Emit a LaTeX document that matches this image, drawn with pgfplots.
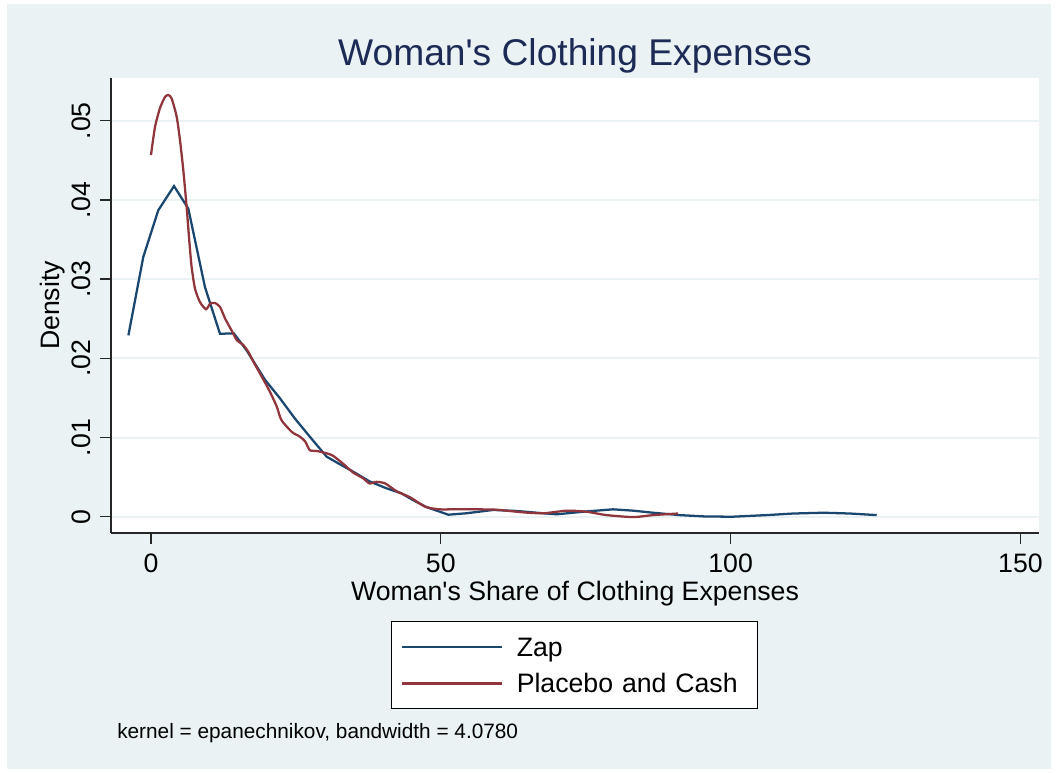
\documentclass[border=0pt]{standalone}
\usepackage{fontspec}
\setmainfont{Liberation Sans}
\usepackage{pgfplots}
\pgfplotsset{compat=1.18}
\definecolor{stbg}{RGB}{234,242,243}
\definecolor{stnavy}{RGB}{26,71,111}
\definecolor{stmaroon}{RGB}{144,53,59}
\definecolor{sttitle}{RGB}{28,43,86}
\begin{document}
\begin{tikzpicture}
\path[fill=white] (0,0) rectangle (792.75pt,579pt);
\fill[stbg] (5.25pt,2.25pt) rectangle (788.25pt,576pt);
\begin{axis}[
  at={(83.25pt,179.25pt)}, anchor=south west,
  scale only axis, width=696pt, height=341.25pt,
  xmin=-6.9, xmax=153.2, ymin=-0.00206, ymax=0.0554,
  axis background/.style={fill=white},
  axis lines*=left,
  axis line style={-, black!85, line width=1pt},
  xtick={0,50,100,150}, xticklabels={0,50,100,150},
  ytick={0,0.01,0.02,0.03,0.04,0.05}, yticklabels={0,.01,.02,.03,.04,.05},
  scaled y ticks=false,
  tick align=outside, major tick length=8.25pt,
  tick style={black!85, line width=1pt},
  ymajorgrids, major grid style={stbg, line width=1.5pt},
  tick label style={font=\fontsize{20}{24}\selectfont, inner sep=0pt},
  xticklabel style={anchor=base},
  xticklabel shift=21pt,
  yticklabel style={rotate=90, anchor=base},
  yticklabel shift=6.97pt,
  every axis title/.style={at={(axis description cs:0.5,1.02857)}, anchor=base,
    font=\fontsize{27.9}{32}\selectfont, text=sttitle, inner sep=0pt},
  title={Woman\textquotesingle s Clothing Expenses},
  every axis x label/.style={at={(axis description cs:0.5,-0.14725)}, anchor=base,
    font=\fontsize{20}{24}\selectfont, inner sep=0pt},
  xlabel={Woman\textquotesingle s Share of Clothing Expenses},
  every axis y label/.style={at={(axis description cs:-0.05496,0.5)}, rotate=90, anchor=base,
    font=\fontsize{20}{24}\selectfont, inner sep=0pt},
  ylabel={Density},
  legend cell align=left,
  legend image code/.code={\draw[#1] (0pt,0pt) -- (75pt,0pt); \path (85.5pt,0pt);},
  legend style={at={(axis description cs:0.30172,-0.19341)}, anchor=north west,
    draw=black, line width=0.75pt, fill=white,
    inner xsep=6.75pt, inner ysep=12pt, row sep=13pt,
    font=\fontsize{20}{24}\selectfont,
    nodes={inner sep=0pt, text height=14.3pt, text depth=0pt},
    /tikz/column 2/.style={nodes={text width=174pt}}},
]
\addplot[stnavy, line width=1.7pt] coordinates {
(-3.9,0.0229) (-1.33,0.0328) (1.26,0.0387) (3.97,0.04175) (6.44,0.0389)
(9.31,0.0290) (11.9,0.0231) (14.3,0.02315) (16.5,0.0210) (19.7,0.01726)
(22.25,0.01495) (24.8,0.01242) (27.4,0.0101) (30.3,0.00758) (32.3,0.00674)
(34.9,0.00568) (37.8,0.00442) (40.65,0.00358) (43.2,0.00295) (45.2,0.0021)
(47.5,0.00122) (51.3,0.00025) (54.4,0.00043) (59.0,0.00085) (63.1,0.00072)
(67.7,0.00043) (70.0,0.0003) (74.6,0.00063) (79.7,0.00093) (83.2,0.00076)
(86.6,0.0005) (91.2,0.0002) (95.8,0.00002) (100.4,0.0) (106.2,0.0002)
(110.8,0.0004) (116,0.0005) (120.6,0.0004) (125.2,0.0002)
};
\addlegendentry{Zap}
\addplot[stmaroon, line width=1.7pt, smooth, tension=0.4] coordinates {
(0,0.04567) (0.69,0.0492) (1.55,0.0516) (2.41,0.0530) (2.99,0.05325)
(3.57,0.0528) (4.43,0.0505) (5.0,0.04756) (5.57,0.0438) (6.15,0.0391)
(6.6,0.0349) (7.0,0.0316) (7.59,0.0288) (8.45,0.0271) (9.49,0.0262)
(10.2,0.0269) (11.0,0.0270) (11.9,0.0265) (12.8,0.0250) (14.0,0.0234)
(14.8,0.0223) (15.9,0.0217) (16.8,0.0208) (17.65,0.0196) (19.4,0.0173)
(20.5,0.0158) (21.7,0.0139) (22.5,0.0122) (24.3,0.0107) (25.7,0.0101)
(26.6,0.0095) (27.4,0.0084) (28.6,0.0083) (30.3,0.0080) (31.4,0.0077)
(33.2,0.00665) (34.9,0.00556) (36.6,0.00485) (37.7,0.0042) (38.9,0.0044)
(40.4,0.0042) (42.4,0.0032) (44.7,0.00245) (47.3,0.00126) (49.8,0.00093)
(53.3,0.00095) (56.2,0.00093) (59.6,0.00088) (64.2,0.00055) (67.7,0.00043)
(71.7,0.00076) (75.1,0.00063) (78.6,0.0002) (83.2,-0.00005) (86.6,0.0002)
(90.9,0.0004)
};
\addlegendentry{Placebo and Cash}
\end{axis}
\node[anchor=base west, inner sep=0pt, font=\fontsize{15.6}{19}\selectfont] at (87.75pt,25pt)
  {kernel = epanechnikov, bandwidth = 4.0780};
\end{tikzpicture}
\end{document}
